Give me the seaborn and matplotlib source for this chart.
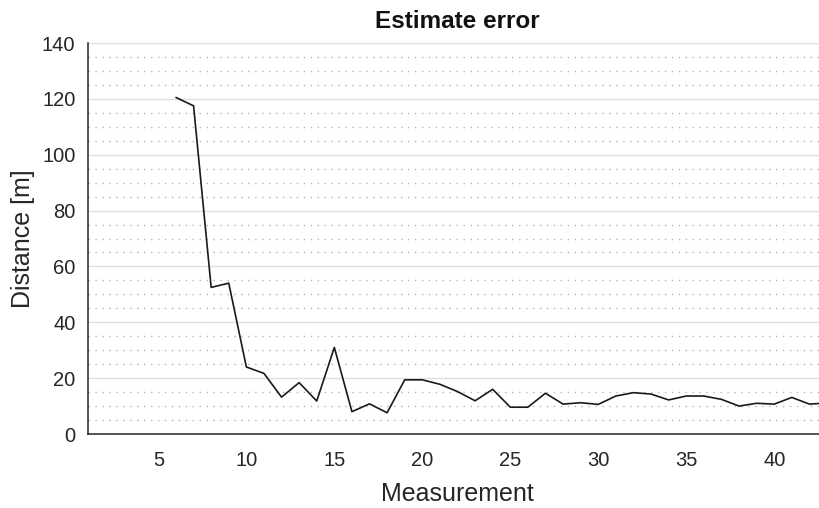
import matplotlib
matplotlib.use("Agg")
import matplotlib.pyplot as plt
from matplotlib.ticker import MultipleLocator
import pandas as pd
import seaborn as sns

# Estimate error per measurement
measurement = list(range(6, 44))
distance = [120.5, 117.5, 52.5, 54.0, 24.0, 21.7, 13.2, 18.4, 11.8, 31.0,
            8.0, 10.8, 7.6, 19.4, 19.4, 17.8, 15.2, 11.9, 16.0, 9.6,
            9.6, 14.6, 10.7, 11.2, 10.6, 13.6, 14.8, 14.3, 12.2, 13.6,
            13.6, 12.4, 10.0, 11.0, 10.7, 13.1, 10.7, 11.1]

x_ticks = [5, 10, 15, 20, 25, 30, 35, 40]
y_ticks = [0, 20, 40, 60, 80, 100, 120, 140]

df = pd.DataFrame({"Measurement": measurement, "Distance [m]": distance})

sns.set_style("white")
plt.rcParams["font.family"] = ["Liberation Sans", "DejaVu Sans"]

fig = plt.figure(figsize=(8.2, 5.08), dpi=100)
ax = fig.add_axes([88 / 820, 74 / 508, 739 / 820, 391 / 508])

sns.lineplot(data=df, x="Measurement", y="Distance [m]", ax=ax,
             color="#1a1a1a", linewidth=1.2, zorder=3)

ax.set_xlim(1, 43)
ax.set_ylim(0, 140)
ax.set_xticks(x_ticks)
ax.set_yticks(y_ticks)
ax.yaxis.set_minor_locator(MultipleLocator(5))

ax.grid(True, which="major", axis="y", color="#e0e0e0", linewidth=1.0, zorder=0)
ax.grid(True, which="minor", axis="y", color="#b4b4b4", linewidth=1.0,
        linestyle=(0, (1, 4)), zorder=0)
ax.set_axisbelow(True)

for side in ("top", "right"):
    ax.spines[side].set_visible(False)
for side in ("left", "bottom"):
    ax.spines[side].set_color("#262626")
    ax.spines[side].set_linewidth(1.1)

ax.tick_params(axis="both", which="major", direction="in", length=5, width=1.0,
               color="#262626", labelcolor="#262626", labelsize=14.5)
ax.tick_params(axis="y", which="minor", length=0)
ax.tick_params(axis="y", pad=9)
ax.tick_params(axis="x", pad=12)

ax.set_xlabel("Measurement", fontsize=18, color="#262626", labelpad=9)
ax.set_ylabel("Distance [m]", fontsize=18, color="#262626", labelpad=5)
ax.set_title("Estimate error", fontsize=17.5, fontweight="bold", color="#111111", pad=11)

fig.savefig("out.png", dpi=100)
